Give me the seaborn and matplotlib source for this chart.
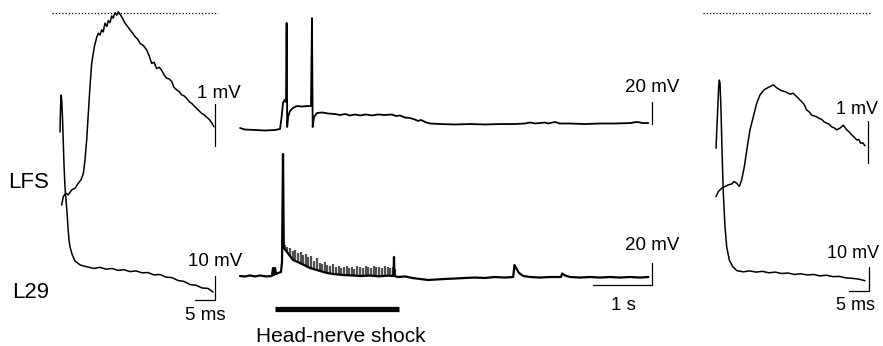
import numpy as np
import pandas as pd
import matplotlib
matplotlib.use("Agg")
import matplotlib.pyplot as plt
import seaborn as sns

W, H = 883, 346

# ---------------- data ----------------
# Left panel, LFS (mV vs ms)
lfs_left_t = [0.42, 0.83, 1.42, 2.08, 2.92, 3.75, 4.58, 5.25, 5.83, 6.25, 6.67, 7.08, 7.5, 7.92,
              8.58, 9.2, 9.58, 10.0, 10.42, 10.8, 11.25, 11.7, 12.08, 12.5, 12.92, 13.3, 13.75,
              14.2, 14.58, 14.9, 15.17, 15.6, 16.25, 16.9, 17.5, 18.1, 18.75, 19.4, 20.0, 20.8,
              21.67, 22.3, 22.92, 23.5, 24.17, 24.8, 25.42, 26.0, 26.67, 27.3, 27.92, 28.5, 29.17,
              29.8, 30.42, 31.0, 31.67, 32.3, 32.92, 33.5, 34.17, 34.8, 35.42, 36.0, 36.67, 37.3,
              37.92, 38.5]
lfs_left_v = [0.0, 0.20, 0.28, 0.24, 0.36, 0.40, 0.52, 0.60, 0.75, 1.07, 1.55, 2.18, 2.82, 3.37,
              3.77, 4.00, 4.09, 4.05, 4.17, 4.12, 4.33, 4.25, 4.39, 4.34, 4.50, 4.45, 4.58,
              4.52, 4.60, 4.55, 4.52, 4.45, 4.33, 4.25, 4.17, 4.10, 4.01, 3.95, 3.85, 3.80,
              3.69, 3.55, 3.37, 3.40, 3.25, 3.28, 3.21, 3.10, 3.02, 3.00, 2.94, 2.80, 2.74,
              2.70, 2.62, 2.60, 2.54, 2.46, 2.42, 2.36, 2.30, 2.24, 2.18, 2.15, 2.09, 2.04,
              1.96, 1.86]

# Left panel, L29 (mV vs ms)
l29_left_t = [0.0, 0.15, 0.3, 0.45, 0.625, 0.75, 1.0, 1.25, 1.5, 1.75, 2.0, 2.25, 2.5, 3.0,
              3.75, 5.0, 6.0, 7.0, 8.5, 10.0, 11.5, 13.0, 14.5, 16.0, 17.5, 19.0, 20.5, 22.0,
              23.5, 25.0, 26.5, 28.0, 29.5, 31.0, 32.5, 34.0, 35.5, 37.0, 38.25]
l29_left_v = [56.7, 67.9, 72.1, 69.2, 62.5, 56.3, 42.9, 33.8, 28.3, 23.3, 16.7, 11.7, 8.8, 5.8,
              2.9, 1.3, 0.8, 0.4, -0.2, 0.3, -0.5, -0.2, -1.0, -0.7, -1.5, -1.2, -2.0, -1.9,
              -2.9, -2.7, -3.8, -4.0, -5.2, -5.6, -6.9, -7.2, -8.3, -8.5, -10.0]

# Right panel, LFS (mV vs ms)
lfs_right_t = [0.0, 0.58, 1.42, 2.25, 3.08, 3.92, 4.5, 5.17, 5.83, 6.42, 7.08, 7.83, 8.5, 9.33,
               10.17, 11.0, 12.0, 13.08, 14.33, 15.33, 16.42, 17.25, 18.5, 19.3, 20.17, 21.42,
               22.0, 22.67, 23.3, 23.92, 25.17, 25.8, 26.42, 27.0, 27.67, 28.3, 28.92, 29.5,
               30.17, 31.0, 31.83, 32.67, 33.3, 33.92, 34.5, 35.17, 35.7, 36.17, 36.7, 37.25]
lfs_right_v = [0.20, 0.32, 0.40, 0.44, 0.48, 0.50, 0.56, 0.52, 0.44, 0.60, 0.91, 1.39, 1.79,
               2.10, 2.42, 2.62, 2.74, 2.80, 2.86, 2.78, 2.72, 2.70, 2.64, 2.66, 2.58, 2.46,
               2.40, 2.26, 2.22, 2.14, 2.10, 2.06, 2.04, 1.98, 1.95, 1.92, 1.86, 1.84, 1.79,
               1.83, 1.90, 1.79, 1.74, 1.67, 1.62, 1.55, 1.56, 1.47, 1.48, 1.41]

# Right panel, L29 (mV vs ms)
l29_right_t = [0.0, 0.42, 0.67, 0.83, 1.0, 1.25, 1.5, 1.83, 2.25, 2.67, 3.33, 4.17, 5.2, 6.8,
               8.4, 10.0, 11.6, 13.2, 14.8, 16.4, 18.0, 19.6, 21.2, 22.8, 24.4, 26.0, 27.6,
               29.2, 30.8, 32.4, 34.0, 35.6, 37.25]
l29_right_v = [49.9, 65.8, 75.5, 78.3, 77.0, 65.8, 49.2, 31.1, 17.2, 8.9, 3.3, 0.6, -1.1, -1.6,
               -1.2, -1.7, -1.4, -2.0, -1.7, -2.3, -2.1, -2.7, -2.4, -2.9, -2.7, -3.3, -3.0,
               -3.6, -3.5, -4.1, -4.3, -4.6, -5.3]

# Middle panel, LFS (mV vs s)
lfs_mid_t = [0.0, 0.085, 0.254, 0.424, 0.593, 0.678, 0.703, 0.729, 0.754, 0.780, 0.790, 0.800,
             0.814, 0.847, 0.898, 0.966, 1.05, 1.136, 1.203, 1.220, 1.232, 1.254, 1.305, 1.39,
             1.49, 1.61, 1.695, 1.78, 1.864, 1.95, 2.034, 2.136, 2.237, 2.339, 2.458, 2.576,
             2.644, 2.712, 2.797, 2.88, 2.966, 3.017, 3.068, 3.136, 3.22, 3.39, 3.644, 3.898,
             4.15, 4.407, 4.66, 4.83, 4.915, 5.0, 5.17, 5.22, 5.34, 5.42, 5.59, 5.85, 6.1,
             6.36, 6.61, 6.73, 6.83, 6.92]
lfs_mid_v = [0.0, -1.4, -1.8, -2.3, -1.8, -0.9, 9.1, 22.7, 25.5, 23.6, 95.5, 0.9,
             10.0, 15.5, 18.2, 20.0, 19.5, 20.0, 20.0, 100.0, 0.9, 10.0, 13.6, 14.1,
             13.2, 12.7, 11.8, 12.7, 11.4, 12.3, 11.4, 12.3, 11.4, 12.3, 11.8, 12.3,
             10.9, 11.4, 9.5, 9.1, 7.7, 6.4, 7.3, 5.5, 4.1, 3.6, 3.2, 3.6,
             3.2, 3.6, 3.6, 4.1, 5.0, 4.1, 5.0, 4.1, 5.5, 4.1, 4.1, 3.6, 4.1,
             4.1, 4.5, 5.5, 4.5, 4.5]

# Middle panel, L29 (mV vs s)
l29_mid_t = [0.0, 0.085, 0.17, 0.254, 0.34, 0.44, 0.54, 0.56, 0.576, 0.593, 0.61, 0.644, 0.695,
             0.712, 0.729, 0.742, 0.797, 0.898, 1.017, 1.186, 1.356, 1.475, 1.6, 1.746, 1.9,
             2.034, 2.2, 2.35, 2.5, 2.602, 2.61, 2.618, 2.68, 2.8, 2.92, 3.05, 3.19, 3.32,
             3.47, 3.64, 3.81, 3.98, 4.15, 4.32, 4.49, 4.63, 4.653, 4.68, 4.73, 4.8, 4.92,
             5.08, 5.25, 5.44, 5.46, 5.51, 5.59, 5.76, 5.93, 6.1, 6.27, 6.44, 6.61, 6.78, 6.92]
l29_mid_v = [0.9, 0.5, 1.4, 0.5, 1.4, 0.5, 0.9, 8.2, 1.8, 8.2, 2.7, 3.6, 4.5,
             13.6, 111.8, 26.4, 22.7, 15.5, 12.7, 8.2, 5.5, 3.6, 2.6, 1.8, 1.4,
             0.9, 1.3, 0.6, 1.2, 0.9, 18.2, 0.9, 0.0, 0.5, -0.9, -1.8, -2.7, -2.3,
             -1.8, -1.4, -0.9, -0.5, -0.9, 0.0, -0.5, 0.0, 10.9, 8.2, 3.6, 0.9, 0.0,
             -0.5, 0.0, 0.0, 3.2, 1.4, 0.0, -0.5, 0.0, -0.5, 0.0, -0.5, 0.0, -0.5, 0.0]

# Middle panel, L29 burst of small spikes during the shock (s, mV)
burst_t = [0.76, 0.80, 0.85, 0.89, 0.94, 0.98, 1.03, 1.07, 1.12, 1.16, 1.21, 1.25, 1.30, 1.35,
           1.39, 1.44, 1.48, 1.53, 1.58, 1.62, 1.67, 1.71, 1.76, 1.81, 1.85, 1.90, 1.94, 1.99,
           2.04, 2.08, 2.13, 2.17, 2.22, 2.27, 2.31, 2.36, 2.40, 2.45, 2.50, 2.54, 2.59, 2.63]
burst_lo = [25.0, 22.5, 19.0, 16.0, 14.5, 13.3, 12.4, 11.0, 9.8, 8.7, 7.8, 7.0, 6.3, 5.6,
            5.0, 4.2, 3.6, 3.2, 2.8, 2.5, 2.2, 2.0, 1.8, 1.6, 1.5, 1.3, 1.2, 1.1,
            1.0, 1.1, 0.9, 1.0, 1.1, 0.9, 1.0, 0.8, 1.0, 0.9, 1.1, 0.8, 1.0, 0.9]
burst_hi = [29, 27, 26, 24, 25, 22, 23, 20, 21, 18, 19, 15, 17, 13,
            12, 14, 11, 10, 12, 9, 10, 8, 9, 10, 8, 9, 7, 10,
            9, 8, 10, 9, 8, 10, 9, 9, 8, 10, 9, 8, 9, 7]

# Shock period (s) and scale bars
shock_on, shock_off = 0.593, 2.695
control_peak_mv = 4.57
scale_lfs_mv = 1
scale_l29_mv = 10
scale_fast_ms = 5
scale_slow_mv = 20
scale_slow_s = 1

# ---------------- drawing ----------------
sns.set_theme(style="white")
plt.rcParams["font.family"] = ["Liberation Sans", "DejaVu Sans"]

fig = plt.figure(figsize=(W / 100, H / 100), dpi=100)


def trace_axes(x0, sx, y0, sy):
    """Axes over the whole figure: data (0,0) sits at pixel (x0,y0);
    sx, sy are pixels per data unit."""
    ax = fig.add_axes([0, 0, 1, 1])
    ax.set_xlim(-x0 / sx, (W - x0) / sx)
    ax.set_ylim((y0 - H) / sy, y0 / sy)
    ax.axis("off")
    ax.patch.set_alpha(0)
    return ax


def trace(ax, t, v, lw, color="black"):
    df = pd.DataFrame({"t": t, "v": v})
    sns.lineplot(data=df, x="t", y="v", ax=ax, color=color, lw=lw,
                 sort=False, estimator=None, legend=False)


FS = 13.5

# left panel
ax_lfs_l = trace_axes(60, 4, 205, 42)
ax_l29_l = trace_axes(60, 4, 268, 2.4)
trace(ax_lfs_l, lfs_left_t, lfs_left_v, 1.1)
trace(ax_l29_l, l29_left_t, l29_left_v, 1.1)
ax_lfs_l.hlines(control_peak_mv, -2, 39.5, colors="black", lw=0.9, linestyles=(0, (1, 1.6)))
ax_lfs_l.plot([38.75, 38.75], [1.4, 1.4 + scale_lfs_mv], color="black", lw=0.9)
ax_l29_l.plot([38.75 - scale_fast_ms, 38.75, 38.75], [-13.3, -13.3, -13.3 + scale_l29_mv],
              color="black", lw=0.9)

# right panel
ax_lfs_r = trace_axes(716, 4, 205, 42)
ax_l29_r = trace_axes(716, 4, 268, 2.4)
trace(ax_lfs_r, lfs_right_t, lfs_right_v, 1.1)
trace(ax_l29_r, l29_right_t, l29_right_v, 1.1)
ax_lfs_r.hlines(control_peak_mv, -3.25, 38.5, colors="black", lw=0.9, linestyles=(0, (1, 1.6)))
ax_lfs_r.plot([38.0, 38.0], [1.0, 1.0 + scale_lfs_mv], color="black", lw=0.9)
ax_l29_r.plot([38.25 - scale_fast_ms, 38.25, 38.25], [-9.6, -9.6, -9.6 + scale_l29_mv],
              color="black", lw=0.9)

# middle panel
ax_lfs_m = trace_axes(240, 59, 128, 1.1)
ax_l29_m = trace_axes(240, 59, 277, 1.1)
trace(ax_lfs_m, lfs_mid_t, lfs_mid_v, 1.3)
ax_l29_m.vlines(burst_t, burst_lo, burst_hi, colors="#505050", lw=1.6)
trace(ax_l29_m, l29_mid_t, l29_mid_v, 1.6)
ax_lfs_m.plot([6.98, 6.98], [4, 4 + scale_slow_mv], color="black", lw=0.9)
ax_l29_m.plot([6.98 - scale_slow_s, 6.98, 6.98], [-7, -7, -7 + scale_slow_mv],
              color="black", lw=0.9)
ax_l29_m.hlines(-29, shock_on, shock_off, colors="black", lw=3.8)


def label(xpx, ypx, s, ha="left", size=FS):
    fig.text(xpx / W, 1 - ypx / H, s, ha=ha, va="center", fontsize=size, color="black")


label(8, 183, "LFS", size=16)
label(12, 292, "L29", size=16)
label(197, 94, "1 mV")
label(188, 262, "10 mV")
label(185, 315, "5 ms")
label(625, 88, "20 mV")
label(625, 246, "20 mV")
label(623, 305, "1 s", ha="center")
label(341, 337, "Head-nerve shock", ha="center", size=15)
label(836, 109, "1 mV", size=13)
label(827, 254, "10 mV", size=13)
label(836, 305, "5 ms", size=13)

fig.savefig("out.png", dpi=100)
